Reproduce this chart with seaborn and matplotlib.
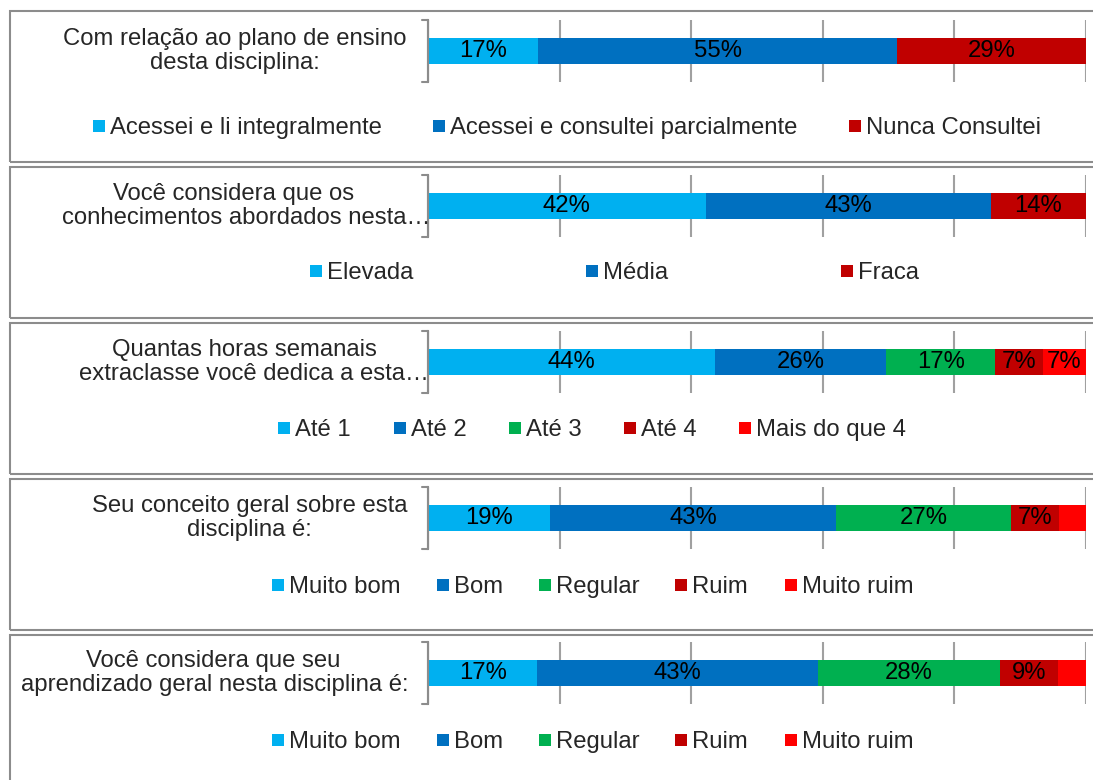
import matplotlib
matplotlib.use("Agg")
import matplotlib.pyplot as plt
import seaborn as sns
import pandas as pd
import numpy as np
from matplotlib.patches import Rectangle

# ---------------- data ----------------
questions = [
    "Com relação ao plano de ensino\ndesta disciplina:",
    "Você considera que os\nconhecimentos abordados nesta…",
    "Quantas horas semanais\nextraclasse você dedica a esta…",
    "Seu conceito geral sobre esta\ndisciplina é:",
    "Você considera que seu\naprendizado geral nesta disciplina é:",
]

cats_plano = ["Acessei e li integralmente", "Acessei e consultei parcialmente", "Nunca Consultei"]
vals_plano = [16.7, 54.6, 28.7]

cats_conhec = ["Elevada", "Média", "Fraca"]
vals_conhec = [42.2, 43.3, 14.5]

cats_horas = ["Até 1", "Até 2", "Até 3", "Até 4", "Mais do que 4"]
vals_horas = [43.6, 26.0, 16.6, 7.2, 6.6]

cats_conceito = ["Muito bom", "Bom", "Regular", "Ruim", "Muito ruim"]
vals_conceito = [18.6, 43.4, 26.6, 7.3, 4.1]

cats_aprend = ["Muito bom", "Bom", "Regular", "Ruim", "Muito ruim"]
vals_aprend = [16.6, 42.6, 27.8, 8.7, 4.3]

colors3 = ["#00B0F0", "#0070C0", "#C00000"]
colors5 = ["#00B0F0", "#0070C0", "#00B050", "#C00000", "#FF0000"]

panels = [
    (questions[0], cats_plano, vals_plano, colors3),
    (questions[1], cats_conhec, vals_conhec, colors3),
    (questions[2], cats_horas, vals_horas, colors5),
    (questions[3], cats_conceito, vals_conceito, colors5),
    (questions[4], cats_aprend, vals_aprend, colors5),
]

# ---------------- layout (pixels) ----------------
W, H = 1093, 780
box_tops = [11, 167, 323, 479, 635]
box_h = 151
bar_cy = [51, 206, 362, 518, 673]
legend_cy = [126, 271, 428, 585, 740]
legend_x = [
    [93, 433, 849],
    [310, 586, 841],
    [278, 394, 509, 624, 739],
    [272, 437, 539, 675, 785],
    [272, 437, 539, 675, 785],
]
line_cx = [[235, 235], [234, 246], [244, 254], [250, 249], [213, 215]]
line_dy = [-6, 18]  # baseline offsets from bar centre
ax_left, ax_right = 428, 1086
ax_h = 62
FS = 17.2
MK = 12  # legend square size (px)

sns.set_style("white")
plt.rcParams["font.family"] = ["Liberation Sans", "DejaVu Sans"]

fig = plt.figure(figsize=(W / 100, H / 100), dpi=100)


def fx(px):
    return px / W


def fy(py):
    return 1 - py / H


for i, (q, cats, vals, cols) in enumerate(panels):
    # panel frame
    fig.patches.append(Rectangle((fx(10), fy(box_tops[i] + box_h)), fx(W + 20), box_h / H,
                                 transform=fig.transFigure, fill=False,
                                 edgecolor="#8C8C8C", linewidth=1.5, clip_on=False))

    ax = fig.add_axes([fx(ax_left), fy(bar_cy[i] + ax_h / 2),
                       (ax_right - ax_left) / W, ax_h / H])
    cum = np.cumsum(vals)
    df = pd.DataFrame({"q": [q] * len(cats), "cat": cats, "cum": cum})
    pal = dict(zip(cats, cols))
    sns.barplot(data=df, x="cum", y="q", hue="cat", hue_order=cats[::-1],
                palette=pal, dodge=False, orient="h", width=0.42,
                saturation=1, linewidth=0, legend=False, ax=ax)
    ax.set_xlim(0, 100)
    ax.set_ylim(0.5, -0.5)
    ax.set_xticks([0, 20, 40, 60, 80, 100])
    ax.set_yticks([])
    ax.tick_params(axis="x", length=0, labelbottom=False)
    ax.grid(axis="x", color="#A0A0A0", linewidth=1.5)
    ax.set_axisbelow(True)
    ax.set_xlabel("")
    ax.set_ylabel("")
    for s in ["top", "right", "bottom"]:
        ax.spines[s].set_visible(False)
    ax.spines["left"].set_color("#8C8C8C")
    ax.spines["left"].set_linewidth(1.5)
    ax.plot([-0.009, 0, 0, -0.009], [1, 1, 0, 0], transform=ax.transAxes,
            color="#8C8C8C", lw=1.5, clip_on=False)

    for v, c in zip(vals, cum):
        if v >= 5:
            ax.text(c - v / 2, 0, f"{round(v):.0f}%", ha="center", va="center",
                    fontsize=FS, color="black")

    # question label (one text per wrapped line)
    for line, cx, dy in zip(q.split("\n"), line_cx[i], line_dy):
        fig.text(fx(cx), fy(bar_cy[i] + dy), line, ha="center", va="baseline",
                 fontsize=FS)

    # legend entries
    for cat, col, lx in zip(cats, cols, legend_x[i]):
        fig.patches.append(Rectangle((fx(lx), fy(legend_cy[i] + MK / 2)), MK / W, MK / H,
                                     transform=fig.transFigure, facecolor=col,
                                     edgecolor="none"))
        fig.text(fx(lx + MK + 5), fy(legend_cy[i] + 8), cat, ha="left", va="baseline",
                 fontsize=FS)

fig.savefig("out.png", dpi=100)
